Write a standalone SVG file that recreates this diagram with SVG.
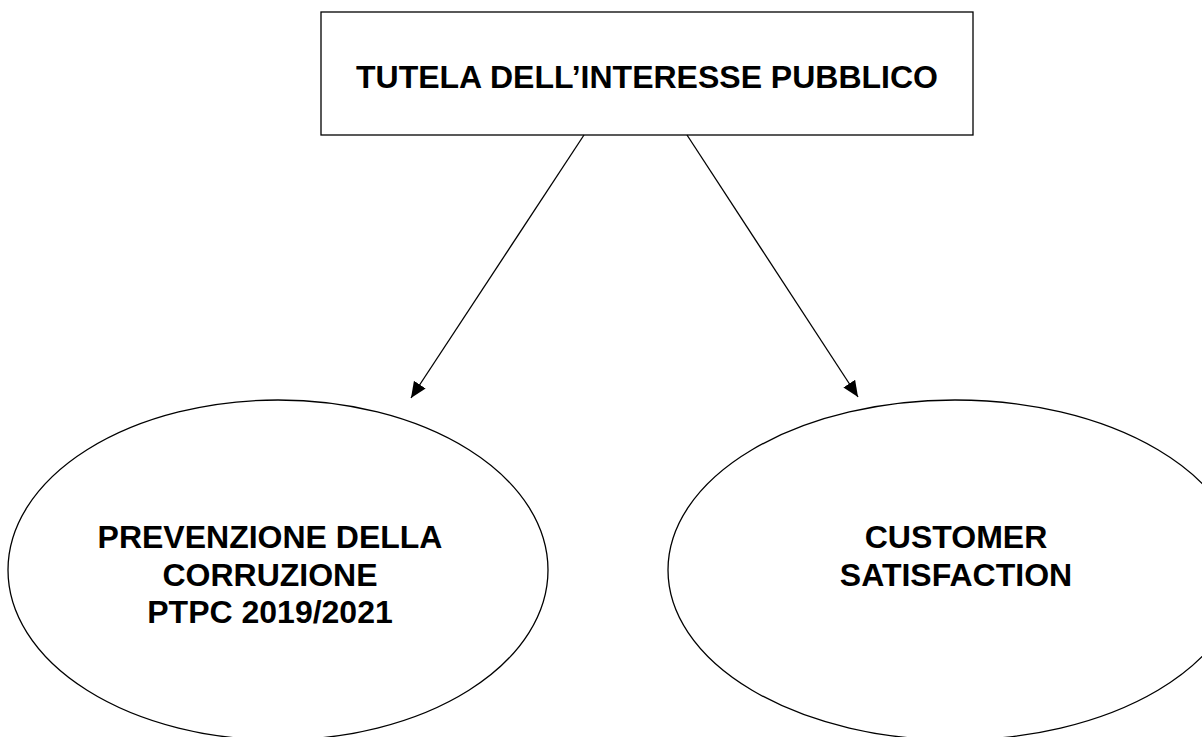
<svg xmlns="http://www.w3.org/2000/svg" width="1202" height="737" viewBox="0 0 1202 737">
<style>
.shape{fill:#fff;stroke:#000;stroke-width:1.3}
.lbl{font-family:"Liberation Sans",Arial,sans-serif;font-weight:bold;font-size:32px;fill:#000;text-anchor:middle}
.conn{stroke:#000;stroke-width:1.3;fill:none}
</style>
<defs>
<marker id="arr" viewBox="0 0 10 10" refX="10" refY="5" markerWidth="16" markerHeight="14" markerUnits="userSpaceOnUse" orient="auto" preserveAspectRatio="none">
<path d="M0,0 L10,5 L0,10 z" fill="#000"/>
</marker>
</defs>
<rect width="1202" height="737" fill="#fff"/>
<g id="node-tutela">
<rect class="shape" x="321" y="12" width="652" height="123"/>
<text class="lbl" x="647" y="88">TUTELA DELL’INTERESSE PUBBLICO</text>
</g>
<g id="node-prevenzione">
<ellipse class="shape" cx="278" cy="570" rx="270" ry="170"/>
<text class="lbl" x="270" y="548">PREVENZIONE DELLA</text>
<text class="lbl" x="270" y="586">CORRUZIONE</text>
<text class="lbl" x="270" y="623">PTPC 2019/2021</text>
</g>
<g id="node-customer">
<ellipse class="shape" cx="955" cy="570" rx="287" ry="170"/>
<text class="lbl" x="956" y="548">CUSTOMER</text>
<text class="lbl" x="956" y="586">SATISFACTION</text>
</g>
<g id="connectors">
<line class="conn" x1="584" y1="135" x2="411" y2="398" marker-end="url(#arr)"/>
<line class="conn" x1="687" y1="135" x2="858" y2="397" marker-end="url(#arr)"/>
</g>
</svg>
